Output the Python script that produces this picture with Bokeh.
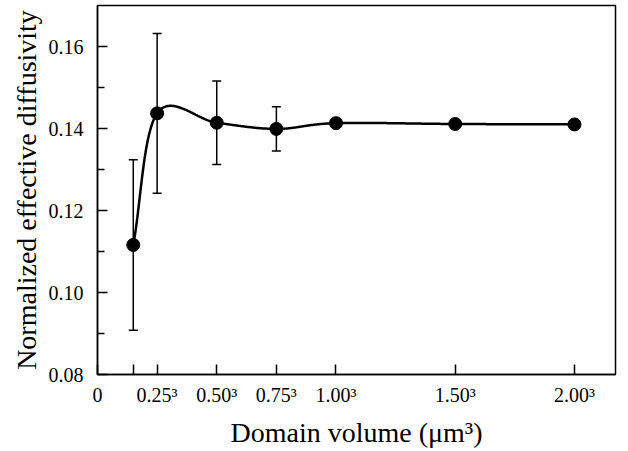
import numpy as np
from bokeh.plotting import figure
from bokeh.models import ColumnDataSource, Whisker, TeeHead, FixedTicker, Range1d
from bokeh.embed import file_html
from bokeh.resources import INLINE

# ---- data ----
edge_length = [0.15, 0.25, 0.50, 0.75, 1.00, 1.50, 2.00]
diffusivity = [0.1116, 0.1437, 0.1414, 0.1399, 0.1413, 0.1411, 0.1410]
err_x = [0.15, 0.25, 0.50, 0.75]
err_val = [0.1116, 0.1437, 0.1414, 0.1399]
err_sd = [0.0208, 0.0195, 0.0102, 0.0054]

x_ticks = [0, 0.15, 0.25, 0.5, 0.75, 1.0, 1.5, 2.0]
x_tick_labels = ["0", "", "0.25³", "0.50³", "0.75³", "1.00³", "1.50³", "2.00³"]
y_ticks = [0.08, 0.10, 0.12, 0.14, 0.16]
y_minor = [0.09, 0.11, 0.13, 0.15]

FONT = "Liberation Serif"

X_END = 2.172
Y_START, Y_END = 0.08, 0.17
FRAME_W, FRAME_H = 518, 369


def smooth_curve(x, y, n_seg=80):
    """Parametric Catmull-Rom curve through the points, in screen-proportional space."""
    sx = FRAME_W / X_END
    sy = FRAME_H / (Y_END - Y_START)
    P = np.column_stack([np.asarray(x, float) * sx, np.asarray(y, float) * sy])
    n = len(P)
    T = np.zeros_like(P)
    T[0] = P[1] - P[0]
    T[-1] = P[-1] - P[-2]
    for i in range(1, n - 1):
        T[i] = (P[i + 1] - P[i - 1]) / 2
    t = np.linspace(0, 1, n_seg)[:, None]
    h00 = 2 * t ** 3 - 3 * t ** 2 + 1
    h10 = t ** 3 - 2 * t ** 2 + t
    h01 = -2 * t ** 3 + 3 * t ** 2
    h11 = t ** 3 - t ** 2
    pts = [h00 * P[i] + h10 * T[i] + h01 * P[i + 1] + h11 * T[i + 1] for i in range(n - 1)]
    pts = np.vstack(pts)
    return pts[:, 0] / sx, pts[:, 1] / sy


cx, cy = smooth_curve(edge_length, diffusivity)

p = figure(width=626, height=450, output_backend="svg", toolbar_location=None,
           x_range=Range1d(0, X_END), y_range=Range1d(Y_START, Y_END),
           min_border_left=97, min_border_right=11, min_border_top=5, min_border_bottom=76)
p.xgrid.visible = False
p.ygrid.visible = False
p.outline_line_color = "black"
p.outline_line_width = 1.5
p.background_fill_color = "white"
p.border_fill_color = "white"

p.line(cx, cy, line_color="black", line_width=2.5)

src = ColumnDataSource(dict(x=err_x,
                            upper=[v + s for v, s in zip(err_val, err_sd)],
                            lower=[v - s for v, s in zip(err_val, err_sd)]))
w = Whisker(base="x", upper="upper", lower="lower", source=src,
            line_color="black", line_width=1.5,
            upper_head=TeeHead(size=9, line_width=1.5, line_color="black"),
            lower_head=TeeHead(size=9, line_width=1.5, line_color="black"))
p.add_layout(w)

p.scatter(edge_length, diffusivity, size=13, fill_color="black", line_color="black")

# axes
p.xaxis.ticker = FixedTicker(ticks=x_ticks, minor_ticks=[])
p.xaxis.major_label_overrides = {t: l for t, l in zip(x_ticks, x_tick_labels)}
p.yaxis.ticker = FixedTicker(ticks=y_ticks, minor_ticks=y_minor)
p.yaxis.major_label_overrides = {t: f"{t:.2f}" for t in y_ticks}

for ax in (p.xaxis[0], p.yaxis[0]):
    ax.axis_line_color = "black"
    ax.axis_line_width = 1.5
    ax.major_tick_line_color = "black"
    ax.major_tick_line_width = 1.5
    ax.minor_tick_line_color = "black"
    ax.minor_tick_line_width = 1.5
    ax.major_tick_in = 10
    ax.major_tick_out = 0
    ax.minor_tick_in = 7
    ax.minor_tick_out = 0
    ax.major_label_text_font = FONT
    ax.major_label_text_font_size = "20px"
    ax.major_label_text_color = "black"
    ax.axis_label_text_font = FONT
    ax.axis_label_text_font_size = "28px"
    ax.axis_label_text_font_style = "normal"
    ax.axis_label_text_color = "black"

p.xaxis.axis_label = "Domain volume (μm³)"
p.yaxis.axis_label = "Normalized effective diffusivity"
p.xaxis.major_label_standoff = 9
p.yaxis.major_label_standoff = 14
p.xaxis.axis_label_standoff = 8
p.yaxis.axis_label_standoff = 4

open("out.html", "w").write(file_html(p, INLINE))
